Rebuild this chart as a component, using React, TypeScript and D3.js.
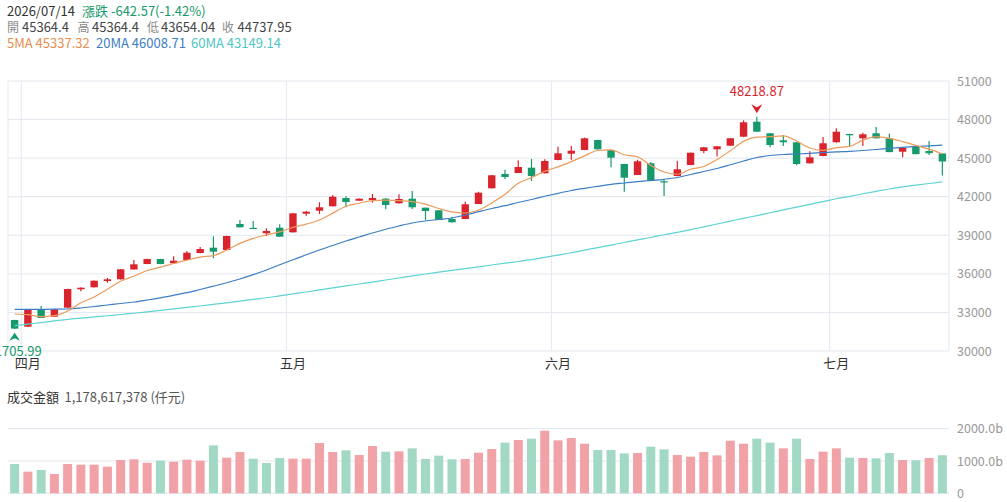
import React, { useRef, useEffect } from "react";
import * as d3 from "d3";

// trading days shown on the chart
const dates = [
    "2026/03/31",
    "2026/04/01", "2026/04/02", "2026/04/07", "2026/04/08", "2026/04/09", "2026/04/10", "2026/04/13", "2026/04/14", "2026/04/15", "2026/04/16",
    "2026/04/17", "2026/04/20", "2026/04/21", "2026/04/22", "2026/04/23", "2026/04/24", "2026/04/27", "2026/04/28", "2026/04/29", "2026/04/30",
    "2026/05/04", "2026/05/05", "2026/05/06", "2026/05/07", "2026/05/08", "2026/05/11", "2026/05/12", "2026/05/13", "2026/05/14", "2026/05/15",
    "2026/05/18", "2026/05/19", "2026/05/20", "2026/05/21", "2026/05/22", "2026/05/25", "2026/05/26", "2026/05/27", "2026/05/28", "2026/05/29",
    "2026/06/01", "2026/06/02", "2026/06/03", "2026/06/04", "2026/06/05", "2026/06/08", "2026/06/09", "2026/06/10", "2026/06/11", "2026/06/12",
    "2026/06/15", "2026/06/16", "2026/06/17", "2026/06/18", "2026/06/22", "2026/06/23", "2026/06/24", "2026/06/25", "2026/06/26", "2026/06/29", "2026/06/30",
    "2026/07/01", "2026/07/02", "2026/07/06", "2026/07/07", "2026/07/08", "2026/07/09", "2026/07/10", "2026/07/13", "2026/07/14"
];

const opens = [
    32411, 31890, 33243, 32668, 33368, 34799, 34954, 35445, 35577, 36340,
    36767, 37156, 36821, 37078, 37622, 38035, 37856, 39878, 39580, 39155,
    39590, 39232, 40679, 40912, 41255, 41900, 41690, 41745, 41846, 41488,
    41846, 41146, 40943, 40267, 40267, 41433, 42655, 43767, 43845, 44257,
    43821, 44856, 45346, 45634, 46412, 45634, 44545, 43689, 44599, 43200,
    43612, 44467, 45556, 45688, 45968, 46668, 47835, 46933, 46388, 46233,
    44599, 45167, 46233, 46878, 46544, 46933, 46544, 45501, 45945, 45556,
    45364.4
];
const highs = [
    32430, 33200, 33500, 33260, 34840, 34950, 35480, 35678, 36370, 37078,
    37170, 37170, 37366, 37778, 38091, 38921, 38960, 40189, 40111, 39544,
    39855, 40720, 40880, 41566, 42134, 42033, 41860, 42211, 41900, 42188,
    42445, 41160, 40960, 40446, 41612, 42390, 43680, 44101, 44832, 44934,
    44910, 45890, 45945, 46600, 46430, 45650, 44560, 44879, 44700, 43355,
    44801, 45430, 45860, 45930, 46560, 47944, 48218.87, 46950, 46800, 46250,
    45533, 46645, 47322, 46900, 46980, 47422, 46900, 45800, 46023, 46334,
    45364.4
];
const lows = [
    31705.99, 31880, 32560, 32650, 33350, 34643, 34940, 35312, 35560, 36330,
    36750, 36750, 36810, 37060, 37610, 37210, 37840, 39610, 39540, 38945,
    38880, 39220, 40524, 40656, 41240, 41177, 41680, 41535, 41021, 41470,
    41045, 40189, 40180, 40000, 40250, 41420, 42640, 43378, 43830, 43223,
    43810, 44840, 44879, 45620, 45680, 44288, 42390, 43680, 43210, 42056,
    43600, 44450, 45377, 45134, 45950, 46650, 47040, 45843, 45945, 44444,
    44590, 45150, 46220, 45945, 45945, 46530, 45460, 45066, 45300, 45245,
    43654.04
];
const closes = [
    31740, 33189, 32567, 33243, 34822, 34923, 35468, 35577, 36355, 36743,
    37156, 36767, 37023, 37646, 37934, 37724, 38945, 39621, 39550, 39334,
    38890, 40710, 40835, 41177, 42002, 41589, 41846, 41900, 41356, 41823,
    41177, 40889, 40189, 40010, 41410, 42312, 43666, 43534, 44312, 43612,
    44778, 45377, 45579, 46544, 45688, 45035, 43479, 44755, 43223, 43140,
    44133, 45423, 45843, 45921, 46544, 47788, 47057, 46023, 46233, 44545,
    45066, 46155, 47057, 46777, 46855, 46544, 45470.13, 45790, 45308, 45380.52,
    44737.95
];

// 成交金額, in billions (b) of 仟元
const volumes = [
    907, 670, 722, 598, 907, 887, 887, 825, 1031, 1052,
    948, 1010, 979, 1041, 1010, 1485, 1103, 1278, 1072, 938,
    1093, 1072, 1072, 1557, 1278, 1330, 1186, 1464, 1289, 1299,
    1392, 1062, 1165, 1052, 1062, 1258, 1371, 1567, 1649, 1691,
    1938, 1639, 1711, 1536, 1340, 1340, 1237, 1247, 1443, 1361,
    1186, 1134, 1278, 1175, 1629, 1536, 1691, 1567, 1392, 1691,
    1062, 1289, 1392, 1103, 1093, 1082, 1247, 1031, 1021, 1093,
    1178.617378
];

// 5MA values before enough closes are on screen
const ma5Lead = [32878, 32823, 32668, 32745];
const ma20 = [
    33243, 33243, 33243, 33251, 33267, 33345, 33461, 33578, 33695, 33811,
    33967, 34138, 34332, 34535, 34783, 35040, 35305, 35600, 35935, 36300,
    36705, 37093, 37482, 37856, 38206, 38556, 38867, 39178, 39466, 39723,
    39956, 40111, 40228, 40345, 40578, 40835, 41084, 41301, 41550, 41784,
    42033, 42266, 42484, 42655, 42810, 42966, 43067, 43168, 43261, 43355,
    43495, 43728, 43962, 44195, 44483, 44778, 45050, 45206, 45284, 45323,
    45377, 45439, 45494, 45533, 45595, 45673, 45766, 45844, 45906, 45960,
    46008.71
];
const ma60 = [
    31968, 32090, 32210, 32340, 32466, 32560, 32650, 32740, 32840, 32935,
    33045, 33160, 33275, 33390, 33500, 33625, 33750, 33880, 34010, 34140,
    34290, 34440, 34590, 34750, 34910, 35060, 35210, 35360, 35520, 35680,
    35840, 35990, 36130, 36270, 36410, 36550, 36690, 36830, 36960, 37100,
    37280, 37460, 37640, 37840, 38040, 38240, 38440, 38640, 38830, 39040,
    39220, 39440, 39660, 39880, 40100, 40320, 40530, 40750, 40970, 41190,
    41410, 41620, 41840, 42030, 42230, 42420, 42600, 42760, 42900, 43030,
    43149.14
];

const priceTicks = [30000, 33000, 36000, 39000, 42000, 45000, 48000, 51000];
const volumeTicks = [0, 1000, 2000];
const monthNames = { "04": "四月", "05": "五月", "06": "六月", "07": "七月" };

const UP = "#d9232d";
const DOWN = "#179a6b";
const VOL_UP = "#f1a2a7";
const VOL_DOWN = "#a1d9c5";
const MA5_COLOR = "#ec9b5c";
const MA20_COLOR = "#3c7dc4";
const MA60_COLOR = "#5ed3d3";
const GRID = "#e3e7ee";
const FONT = "'Noto Sans CJK TC', 'Noto Sans', sans-serif";

const App = () => {
    const svgRef = useRef(null);

    useEffect(() => {
        if (!svgRef.current) return;
        const svg = d3.select(svgRef.current);
        svg.selectAll("*").remove();

        const plot = { left: 8, right: 949, top: 81, bottom: 351 };
        const vol = { top: 428.7, bottom: 493.3 };
        const n = dates.length;
        const idx = d3.range(n);

        const ma5 = idx.map(i => i < 4 ? ma5Lead[i] : d3.mean(closes.slice(i - 4, i + 1)));

        const x = d3.scaleBand().domain(idx).range([plot.left, plot.right]);
        const bw = x.bandwidth();
        const cx = i => x(i) + bw / 2;
        const y = d3.scaleLinear().domain([30000, 51000]).range([plot.bottom, plot.top]);
        const yv = d3.scaleLinear().domain([0, 2000]).range([vol.bottom, vol.top]);

        const text = (g, tx, ty, str, color, size = 13, anchor = "start") =>
            g.append("text")
                .attr("x", tx)
                .attr("y", ty)
                .attr("text-anchor", anchor)
                .style("font-family", FONT)
                .style("font-size", `${size}px`)
                .style("fill", color)
                .text(str);

        // header
        const last = n - 1;
        const change = closes[last] - closes[last - 1];
        const pct = change / closes[last - 1] * 100;
        text(svg, 7, 16, dates[last], "#333");
        text(svg, 82, 16, `漲跌 ${change.toFixed(2)}(${pct.toFixed(2)}%)`, DOWN);
        const ohlcRow = [
            ["開", opens[last], 7, 22],
            ["高", highs[last], 77.5, 92],
            ["低", lows[last], 147, 161],
            ["收", closes[last], 222, 237.5]
        ];
        ohlcRow.forEach(([label, v, lx, vx]) => {
            text(svg, lx, 32, label, "#8a8a8a", 12);
            text(svg, vx, 32, String(v), "#444");
        });
        text(svg, 7, 48, `5MA ${ma5[last].toFixed(2)}`, "#e88e4f");
        text(svg, 96, 48, `20MA ${ma20[last].toFixed(2)}`, MA20_COLOR);
        text(svg, 191, 48, `60MA ${ma60[last].toFixed(2)}`, "#4fc6c6");

        // price grid
        const grid = svg.append("g");
        priceTicks.forEach(t => {
            grid.append("line")
                .attr("x1", plot.left).attr("x2", plot.right)
                .attr("y1", y(t)).attr("y2", y(t))
                .style("stroke", GRID);
            text(grid, 957, y(t) + 4.5, String(t), "#999", 12.5);
        });
        [plot.left, plot.right].forEach(px => {
            grid.append("line")
                .attr("x1", px).attr("x2", px)
                .attr("y1", plot.top).attr("y2", plot.bottom)
                .style("stroke", GRID);
        });

        // month boundaries
        idx.filter(i => i > 0 && dates[i].slice(5, 7) !== dates[i - 1].slice(5, 7)).forEach(i => {
            grid.append("line")
                .attr("x1", x(i)).attr("x2", x(i))
                .attr("y1", plot.top).attr("y2", plot.bottom)
                .style("stroke", GRID);
            text(grid, cx(i), 368, monthNames[dates[i].slice(5, 7)], "#333", 13, "middle");
        });

        // candles
        const bodyW = 7.4;
        const candles = svg.append("g");
        idx.forEach(i => {
            const up = closes[i] >= opens[i];
            const colour = up ? UP : DOWN;
            candles.append("line")
                .attr("x1", cx(i)).attr("x2", cx(i))
                .attr("y1", y(highs[i])).attr("y2", y(lows[i]))
                .style("stroke", colour)
                .style("stroke-width", 1.2);
            const top = y(Math.max(opens[i], closes[i]));
            const bottom = y(Math.min(opens[i], closes[i]));
            candles.append("rect")
                .attr("x", cx(i) - bodyW / 2)
                .attr("y", top)
                .attr("width", bodyW)
                .attr("height", Math.max(1.2, bottom - top))
                .style("fill", colour);
        });

        // moving averages
        const maLine = d3.line()
            .x((d, i) => cx(i))
            .y(d => y(d))
            .curve(d3.curveMonotoneX);
        [[ma60, MA60_COLOR], [ma20, MA20_COLOR], [ma5, MA5_COLOR]].forEach(([series, colour]) => {
            svg.append("path")
                .datum(series)
                .attr("fill", "none")
                .attr("stroke", colour)
                .attr("stroke-width", 1.2)
                .attr("d", maLine);
        });

        // high / low markers
        const hi = d3.maxIndex(highs);
        const lo = d3.minIndex(lows);
        const hx = cx(hi), hTip = y(highs[hi]) - 3.5;
        svg.append("path")
            .attr("d", `M${hx},${hTip} L${hx + 5.5},${hTip - 9} L${hx},${hTip - 6} L${hx - 5.5},${hTip - 9} Z`)
            .style("fill", UP);
        text(svg, hx, hTip - 17, highs[hi].toFixed(2), UP, 13, "middle");
        const lx = cx(lo), lTip = y(lows[lo]) + 3.6;
        svg.append("path")
            .attr("d", `M${lx},${lTip} L${lx + 5.5},${lTip + 8} L${lx},${lTip + 5.5} L${lx - 5.5},${lTip + 8} Z`)
            .style("fill", DOWN);
        text(svg, lx, lTip + 23.5, lows[lo].toFixed(2), DOWN, 13, "middle");

        // volume panel
        text(svg, 7, 402, "成交金額", "#333");
        text(svg, 64.5, 402, `${Math.round(volumes[last] * 1e6).toLocaleString("en-US")} (仟元)`, "#555");
        volumeTicks.forEach(t => {
            svg.append("line")
                .attr("x1", plot.left).attr("x2", plot.right)
                .attr("y1", yv(t)).attr("y2", yv(t))
                .style("stroke", GRID);
            text(svg, 957, yv(t) + 4.5, t === 0 ? "0" : `${t.toFixed(1)}b`, "#999", 12.5);
        });
        const volW = 9;
        idx.forEach(i => {
            const up = i === 0 ? closes[i] >= opens[i] : closes[i] >= closes[i - 1];
            svg.append("rect")
                .attr("x", cx(i) - volW / 2)
                .attr("y", yv(volumes[i]))
                .attr("width", volW)
                .attr("height", yv(0) - yv(volumes[i]))
                .style("fill", up ? VOL_UP : VOL_DOWN);
        });
    }, []);

    return (
        <svg
            ref={svgRef}
            width={1007}
            height={502}
            style={{ position: "absolute", left: 0, top: 0, background: "#fff" }}
        />
    );
};

export default App;
